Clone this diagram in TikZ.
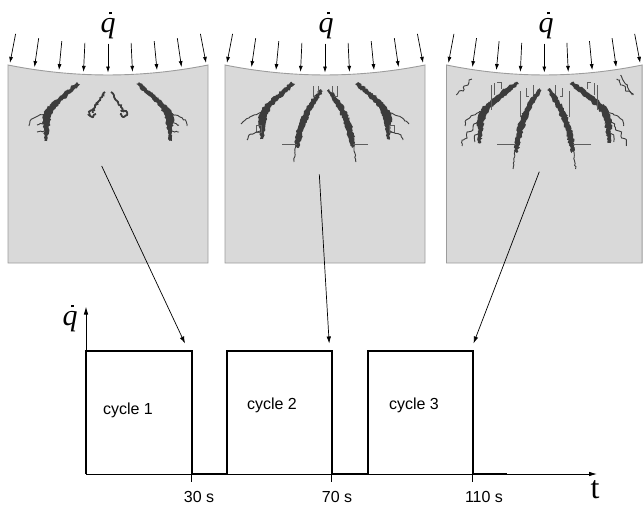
\documentclass[tikz,border=0pt]{standalone}
\usepackage{fontspec}
\setmainfont{Liberation Sans}
\newfontfamily\serifface{Liberation Serif}
\usetikzlibrary{arrows.meta,decorations.pathmorphing}

\definecolor{slab}{HTML}{D9D9D9}
\definecolor{slabedge}{HTML}{9C9C9C}
\definecolor{crack}{HTML}{3C3C3C}
\definecolor{hair}{HTML}{5E5E5E}

% rate symbol: serif italic q with a small dot above
\newcommand\qrate{{\serifface\itshape\makebox[0pt][l]{\kern0.29em\raisebox{0.59em}[0pt][0pt]{\rule{0.09em}{0.09em}}}q}}

\tikzset{
  slabbox/.style={fill=slab, draw=slabedge, line width=0.9pt},
  load/.style={line width=0.7pt, -{Latex[length=6pt,width=4pt]}},
  link/.style={line width=0.7pt, -{Latex[length=7pt,width=4.5pt]}},
  crackbody/.style={fill=crack, decorate, decoration={random steps, segment length=1.6pt, amplitude=1pt}},
  crackline/.style={draw=crack, line width=0.9pt, decorate, decoration={random steps, segment length=2pt, amplitude=0.7pt}},
  speckle/.style={draw=crack, line width=1.8pt, decorate, decoration={random steps, segment length=1.5pt, amplitude=1pt}},
  hairline/.style={draw=hair, line width=0.5pt},
  axisline/.style={line width=0.8pt, -{Latex[length=8pt,width=4.5pt]}},
  signal/.style={line width=1.8pt, line join=miter},
  ticklab/.style={font=\fontsize{16}{16}\selectfont},
  cyclelab/.style={font=\fontsize{16}{16}\selectfont},
  qlab/.style={inner sep=0pt, anchor=base, font=\fontsize{30}{30}\selectfont},
}

% slab outline in local units: 200 wide, 198 high, top edge sagging by 10
\newcommand\slaboutline{(0,0) .. controls (66.7,13.3) and (133.3,13.3) .. (200,0) -- (200,198) -- (0,198) -- cycle}

% nine load arrows normal to the sagging top edge
\newcommand\loadarrows{%
  \foreach \i in {-4,...,4} {
    \pgfmathsetmacro\u{100+24.5*(\i)}
    \pgfmathsetmacro\s{10*(1-((\u-100)/100)^2)}
    \draw[load] ({\u-1.4*(\i)},{\s-31.5}) -- (\u,{\s-2.5});
  }%
}

% left half of the crack pattern, cycle 1
\newcommand\crackhalfA{%
  \path[crackbody] (69,17) -- (72,19) -- (64,27) -- (55,35) -- (48,42) -- (44,49)
    -- (42,56) -- (41,64) -- (39,76) -- (36,76) -- (36,64) -- (34,57) -- (35,50)
    -- (39,43) -- (47,35) -- (58,26) -- cycle;
  \path[crackline] (38,48) -- (28,52) -- (22,56) -- (21,61);
  \path[crackline] (36,58) -- (29,60);
  \path[crackline] (36,66) -- (29,67);
  \path[speckle] (97,27) -- (94,32) -- (90,37) -- (87,42) -- (84,47);
  \path[speckle] (87,45) -- (82,46) -- (81,50) -- (85,52) -- (88,49);
}

% left half of the crack pattern, cycle 2
\newcommand\crackhalfB{%
  \path[crackbody] (67,17) -- (70,19) -- (62,27) -- (53,35) -- (46,42) -- (43,49)
    -- (41,56) -- (40,64) -- (38,74) -- (35,74) -- (35,64) -- (33,57) -- (34,50)
    -- (38,42) -- (46,34) -- (57,25) -- cycle;
  \path[crackline] (37,47) -- (27,51) -- (19,56) -- (16,59);
  \path[hairline] (31,60) rectangle (36,67);
  \path[crackline] (35,66) -- (24,70) -- (22,75);
  \path[crackbody] (96,24) -- (98,26) -- (93,34) -- (87,44) -- (82,55) -- (78,66)
    -- (76,76) -- (73,83) -- (70,81) -- (71,70) -- (74,58) -- (79,46) -- (86,35) -- cycle;
  \path[crackline] (71,80) -- (69,97);
  \path[hairline] (57,79) -- (72,79);
  \path[hairline] (88,21) -- (88,31) -- (91,31);
  \path[hairline] (93,21) -- (93,28);
}

% left half of the crack pattern, cycle 3
\newcommand\crackhalfC{%
  \path[crackbody] (71,17) -- (74,19) -- (65,27) -- (55,35) -- (46,42) -- (41,49)
    -- (38,56) -- (37,66) -- (35,78) -- (32,78) -- (32,66) -- (31,57) -- (33,49)
    -- (38,41) -- (48,33) -- (59,24) -- cycle;
  \path[crackline] (36,46) -- (25,51) -- (20,55) -- (19,61);
  \path[crackline] (34,57) -- (28,59) -- (27,65) -- (21,67) -- (21,73) -- (16,75) -- (16,81);
  \path[crackline] (33,68) -- (29,70) -- (29,77);
  \path[crackline] (10,30) -- (13,26) -- (17,26) -- (18,21) -- (22,20) -- (23,15) -- (26,14);
  \path[hairline] (46,20) -- (46,45);
  \path[hairline] (49,18) -- (49,30);
  \path[hairline] (52,17) -- (56,17) -- (56,24);
  \path[crackbody] (95,23) -- (97,25) -- (92,34) -- (86,45) -- (81,57) -- (77,69)
    -- (75,80) -- (72,88) -- (69,86) -- (70,74) -- (73,61) -- (78,48) -- (85,35) -- cycle;
  \path[crackline] (70,86) -- (68,104);
  \path[hairline] (52,79) -- (71,79);
  \path[hairline] (75,26) -- (75,52);
  \path[hairline] (82,23) -- (82,31) -- (84,31);
  \path[hairline] (89,20) -- (89,30);
}

\begin{document}
\begin{tikzpicture}[x=1pt, y=-1pt]
\pgfmathsetseed{4711}
\useasboundingbox (0,0) rectangle (643,506);

% ---- slabs with loads and cracks ----
\begin{scope}[shift={(8,65)}]
  \path[slabbox] \slaboutline;
  \loadarrows
  \crackhalfA
  \begin{scope}[shift={(200,0)}, xscale=-1] \crackhalfA \end{scope}
\end{scope}

\begin{scope}[shift={(225,65)}]
  \path[slabbox] \slaboutline;
  \loadarrows
  \crackhalfB
  \begin{scope}[shift={(200,0)}, xscale=-1] \crackhalfB \end{scope}
\end{scope}

\begin{scope}[shift={(446.5,65)}, xscale=0.978]
  \path[slabbox] \slaboutline;
  \loadarrows
  \crackhalfC
  \begin{scope}[shift={(200,0)}, xscale=-1] \crackhalfC \end{scope}
  \path[crackline] (178,10) -- (181,16) -- (185,20) -- (187,26) -- (191,30);
\end{scope}

\node[qlab] (q1) at (108,32) {\qrate};
\node[qlab] (q2) at (326,32) {\qrate};
\node[qlab] (q3) at (546,32) {\qrate};

% ---- load history ----
\coordinate (O) at (86,474);
\coordinate (ytip) at (86,306.5);
\coordinate (xtip) at (597,474);
\draw[axisline] (O) -- (ytip);
\draw[axisline] (O) -- (xtip);

\coordinate (p1) at (191.7,351);
\coordinate (p2) at (331.7,351);
\coordinate (p3) at (472.7,351);

\draw[signal] (O) -- (86,351) -- (p1) -- (191.7,474) -- (226.7,474) -- (226.7,351)
  -- (p2) -- (331.7,474) -- (367.7,474) -- (367.7,351) -- (p3) -- (472.7,474) -- (506.7,474);

\foreach \tx in {191.7,331.7,472.7}
  \draw[line width=0.8pt] (\tx,474) -- (\tx,482);

\node[ticklab] (l30) at (199,496.5) {30 s};
\node[ticklab] (l70) at (337,496.5) {70 s};
\node[ticklab] (l110) at (484,496.5) {110 s};

\node[cyclelab] (c1) at (128,410) {cycle 1};
\node[cyclelab] (c2) at (272,405) {cycle 2};
\node[cyclelab] (c3) at (414,405) {cycle 3};

\node[qlab] (qa) at (70,325) {\qrate};
\node[inner sep=0pt, anchor=base, font=\serifface\fontsize{32}{32}\selectfont] (tl) at (595,498.5) {t};

% ---- links from slab states to the cycles ----
\coordinate (s1) at (101.7,166);
\coordinate (s2) at (319.3,174.3);
\coordinate (s3) at (539.3,171.7);
\coordinate (e1) at (185,343.5);
\coordinate (e2) at (329.2,343.5);
\coordinate (e3) at (473.5,343.5);
\draw[link] (s1) -- (e1);
\draw[link] (s2) -- (e2);
\draw[link] (s3) -- (e3);
\end{tikzpicture}
\end{document}
